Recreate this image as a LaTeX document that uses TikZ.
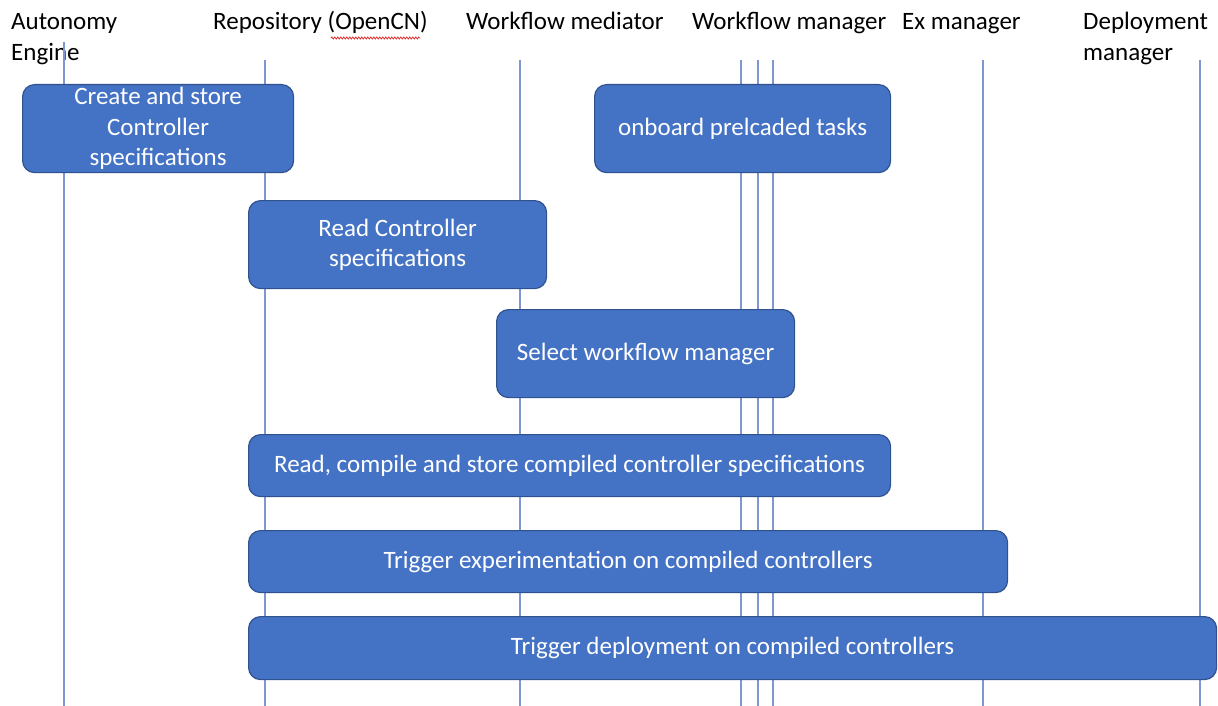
\documentclass[tikz,border=0pt]{standalone}
\usepackage{fontspec}
\setmainfont{Carlito}
\usetikzlibrary{decorations.pathmorphing}
\definecolor{boxfill}{HTML}{4472C4}
\definecolor{boxline}{HTML}{2F528F}
\definecolor{lifecol}{HTML}{7F96D4}
\definecolor{spellred}{HTML}{E03030}
\tikzset{
  lifeline/.style={draw=lifecol, line width=1.6pt},
  taskbox/.style={draw=boxline, fill=boxfill, line width=1.2pt, rounded corners=12pt,
    text=white, font=\fontsize{25}{30.5}\selectfont, align=center, inner sep=0pt, anchor=north west},
  header/.style={font=\fontsize{25}{31}\selectfont, anchor=base west, inner sep=0pt, align=left},
}
\begin{document}
\begin{tikzpicture}[x=1pt,y=-1pt]
\useasboundingbox (0,0) rectangle (1218,706);
% headers
\node[header] (hae) at (11,30) {Autonomy};
\node[header] (hae2) at (11,61) {Engine};
\node[header] (hrep) at (213,30) {Repository (OpenCN)};
\node[header] (hwmed) at (466,30) {Workflow mediator};
\node[header] (hwman) at (692,30) {Workflow manager};
\node[header] (hex) at (902,30) {Ex manager};
\node[header] (hdep) at (1083,30) {Deployment};
\node[header] (hdep2) at (1083,61) {manager};
\draw[spellred, line width=0.8pt, decorate, decoration={zigzag, segment length=3pt, amplitude=1pt}] (331,38) -- (420,38);
% lifelines
\coordinate (ae1) at (64,42);   \coordinate (ae2) at (64,706);
\coordinate (rp1) at (265,60);  \coordinate (rp2) at (265,706);
\coordinate (wm1) at (520,60);  \coordinate (wm2) at (520,706);
\coordinate (wa1) at (741,60);  \coordinate (wa2) at (741,706);
\coordinate (wb1) at (758,60);  \coordinate (wb2) at (758,706);
\coordinate (wc1) at (773,60);  \coordinate (wc2) at (773,706);
\coordinate (ex1) at (983,60);  \coordinate (ex2) at (983,706);
\coordinate (dp1) at (1200,60); \coordinate (dp2) at (1200,706);
\foreach \a/\b in {ae1/ae2,rp1/rp2,wm1/wm2,wa1/wa2,wb1/wb2,wc1/wc2,ex1/ex2,dp1/dp2}
  \draw[lifeline] (\a) -- (\b);
% task boxes
\node[taskbox, minimum width=271pt, minimum height=88pt] (b1) at (22,84) {Create and store\\Controller\\specifications};
\node[taskbox, minimum width=296pt, minimum height=88pt] (b2) at (594,84) {onboard prelcaded tasks};
\node[taskbox, minimum width=298pt, minimum height=88pt] (b3) at (248,200) {Read Controller\\specifications};
\node[taskbox, minimum width=298pt, minimum height=88pt] (b4) at (496,309) {Select workflow manager};
\node[taskbox, minimum width=642pt, minimum height=62pt] (b5) at (248,434) {Read, compile and store compiled controller specifications};
\node[taskbox, minimum width=759pt, minimum height=62pt] (b6) at (248,530) {Trigger experimentation on compiled controllers};
\node[taskbox, minimum width=968pt, minimum height=63pt] (b7) at (248,616) {Trigger deployment on compiled controllers};
\end{tikzpicture}
\end{document}
